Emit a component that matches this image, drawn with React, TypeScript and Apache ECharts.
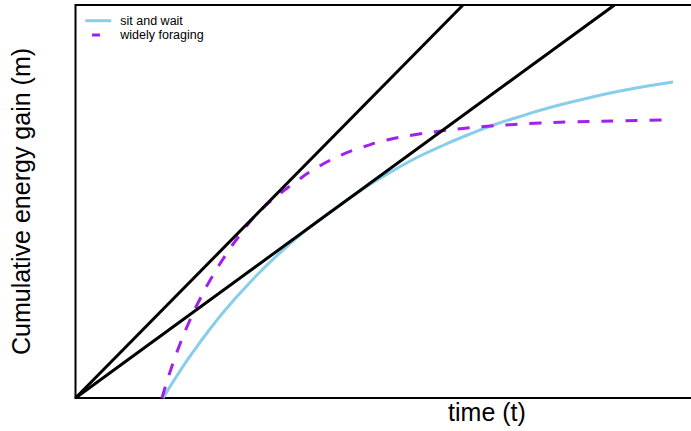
import React, { useEffect, useRef } from "react";
import * as echarts from "echarts";

// time (t)
const sitWaitT = [8.75, 10.45, 11.75, 13.45, 15.15, 16.75, 18.25, 19.95, 22.15, 24.45, 26.95, 29.45, 31.95, 34.45, 36.95, 39.45, 41.95, 44.45, 47.45, 50.45, 54.45, 59.75];
const sitWaitM = [0, 2.7, 4.6, 6.9, 9.0, 10.8, 12.4, 14.05, 16.05, 17.85, 19.65, 21.35, 22.85, 24.2, 25.35, 26.4, 27.35, 28.15, 29.05, 29.8, 30.7, 31.6];

const foragingT = [8.65, 9.45, 10.45, 11.45, 12.45, 13.65, 15.15, 16.45, 18.15, 20.15, 22.15, 23.75, 26.15, 28.45, 31.15, 33.75, 36.15, 38.75, 41.45, 43.75, 46.45, 49.15, 54.15, 59.15];
const foragingM = [0, 2.6, 5.4, 7.8, 9.9, 12.1, 14.5, 16.3, 18.4, 20.2, 21.7, 22.8, 24.1, 25.0, 25.8, 26.3, 26.65, 26.95, 27.2, 27.35, 27.5, 27.6, 27.7, 27.8];

// tangent lines from the origin
const steepT = [0, 38.75];
const steepM = [0, 39.3];
const shallowT = [0, 53.9];
const shallowM = [0, 39.3];

const seriesNames = ["sit and wait", "widely foraging"];
const xTitle = "time (t)";
const yTitle = "Cumulative energy gain (m)";
const xMax = 82.3;
const yMax = 39.3;

const zip = (a: number[], b: number[]) => a.map((v, i) => [v, b[i]]);

const FONT = "'Liberation Sans', Arial, Helvetica, sans-serif";
const BLUE = "#87CEEB";
const PURPLE = "#A020F0";

export default function App() {
  const ref = useRef<HTMLDivElement>(null);
  useEffect(() => {
    if (!ref.current) return;
    const chart = echarts.init(ref.current, undefined, { renderer: "svg" });
    chart.setOption({
      animation: false,
      backgroundColor: "#ffffff",
      grid: {
        left: 75.5,
        top: 5,
        width: 823,
        height: 393,
        show: true,
        borderColor: "#000000",
        borderWidth: 2,
        backgroundColor: "transparent",
        outerBoundsMode: "none",
      },
      xAxis: {
        type: "value",
        min: 0,
        max: xMax,
        name: xTitle,
        nameLocation: "middle",
        nameGap: 1,
        nameTextStyle: { fontFamily: FONT, fontSize: 25, color: "#000" },
        axisLine: { show: false },
        axisTick: { show: false },
        axisLabel: { show: false },
        splitLine: { show: false },
      },
      yAxis: {
        type: "value",
        min: 0,
        max: yMax,
        name: yTitle,
        nameLocation: "middle",
        nameRotate: 90,
        nameGap: 42.5,
        nameTextStyle: { fontFamily: FONT, fontSize: 25, color: "#000" },
        axisLine: { show: false },
        axisTick: { show: false },
        axisLabel: { show: false },
        splitLine: { show: false },
      },
      series: [
        {
          name: seriesNames[0],
          type: "line",
          data: zip(sitWaitT, sitWaitM),
          smooth: 0.5,
          showSymbol: false,
          symbol: "none",
          lineStyle: { color: BLUE, width: 3 },
        },
        {
          name: seriesNames[1],
          type: "line",
          data: zip(foragingT, foragingM),
          smooth: 0.5,
          showSymbol: false,
          symbol: "none",
          lineStyle: { color: PURPLE, width: 3, type: [12, 12] },
        },
        {
          name: "tangent steep",
          type: "line",
          data: zip(steepT, steepM),
          showSymbol: false,
          symbol: "none",
          lineStyle: { color: "#000000", width: 3 },
        },
        {
          name: "tangent shallow",
          type: "line",
          data: zip(shallowT, shallowM),
          showSymbol: false,
          symbol: "none",
          lineStyle: { color: "#000000", width: 3 },
        },
      ],
      graphic: [
        {
          type: "line",
          shape: { x1: 85.3, y1: 20.7, x2: 111.3, y2: 20.7 },
          style: { stroke: BLUE, lineWidth: 3 },
        },
        {
          type: "line",
          shape: { x1: 92, y1: 35, x2: 100, y2: 35 },
          style: { stroke: PURPLE, lineWidth: 3 },
        },
        {
          type: "text",
          x: 120.3,
          y: 20.7,
          style: {
            text: seriesNames[0],
            font: `12.5px ${FONT}`,
            fill: "#000",
            verticalAlign: "middle",
            align: "left",
          },
        },
        {
          type: "text",
          x: 120.3,
          y: 34.5,
          style: {
            text: seriesNames[1],
            font: `12.5px ${FONT}`,
            fill: "#000",
            verticalAlign: "middle",
            align: "left",
          },
        },
      ],
    });
    return () => chart.dispose();
  }, []);
  return (
    <div style={{ position: "absolute", left: 0, top: 0, width: 691, height: 431, overflow: "hidden" }}>
      <div ref={ref} style={{ width: 930, height: 431 }} />
    </div>
  );
}
